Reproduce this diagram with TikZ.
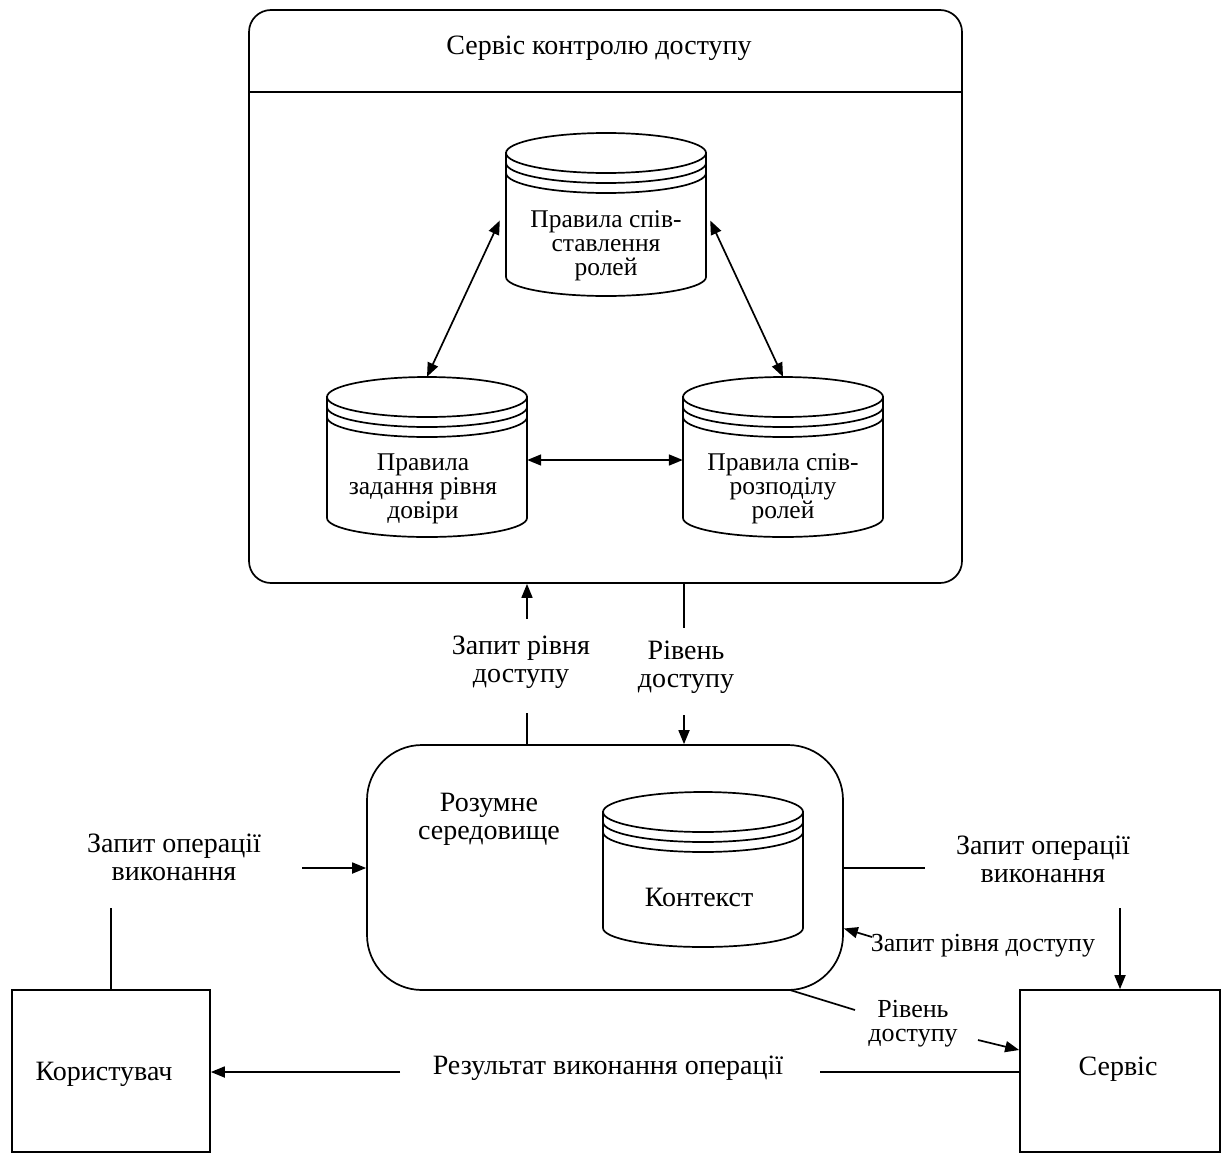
\documentclass[tikz,border=0pt]{standalone}
\usepackage{fontspec}
\setmainfont{Liberation Serif}
\usetikzlibrary{arrows.meta,calc}

% Drum (database) symbol: #1 centre x, #2 top y, #3 lowest y
\newcommand\drumsym[3]{%
  \fill[white] ({#1-100},{#2+19}) -- ({#1-100},{#3-19})
     arc[start angle=180,end angle=0,x radius=100,y radius=19]
     -- ({#1+100},{#2+19}) arc[start angle=0,end angle=180,x radius=100,y radius=19] -- cycle;
  \draw[ln] ({#1-100},{#2+19}) -- ({#1-100},{#3-19})
     arc[start angle=180,end angle=0,x radius=100,y radius=19]
     -- ({#1+100},{#2+19});
  \draw[ln] (#1,{#2+20}) ellipse[x radius=100,y radius=20];
  \draw[ln] ({#1-100},{#2+30}) arc[start angle=180,end angle=0,x radius=100,y radius=20];
  \draw[ln] ({#1-100},{#2+40}) arc[start angle=180,end angle=0,x radius=100,y radius=20];
}

\begin{document}
\begin{tikzpicture}[x=1pt,y=-1pt,
  every node/.style={font=\fontsize{28}{28}\selectfont},
  ln/.style={line width=1.7pt},
  tip/.tip={Triangle[length=14pt,width=11pt]},
  arr/.style={ln,-tip},
  darr/.style={ln,tip-tip},
  box/.style={draw,ln,rectangle,inner sep=0pt},
  area/.style={rectangle,inner sep=0pt},
  lbl/.style={align=center,inner sep=2pt},
  drumtext/.style={align=center,inner sep=0pt,font=\fontsize{25.5}{24}\selectfont},
]
\useasboundingbox (0,0) rectangle (1222,1153);

% ---- access control service ----
\node[box,rounded corners=22pt,minimum width=713pt,minimum height=573pt] (acs) at (605.5,296.5) {};
\coordinate (hd) at (0,92);
\draw[ln] (acs.west |- hd) -- (acs.east |- hd);
\node (acstitle) at (599,48) {Сервіс контролю доступу};

% rule stores
\drumsym{606}{133}{296}
\node[area,minimum width=200pt,minimum height=163pt] (ctop) at (606,214.5) {};
\node[drumtext] (ttop) at (606,246) {Правила спів-\\ставлення\\ролей};

\drumsym{427}{377}{537}
\node[area,minimum width=200pt,minimum height=160pt] (cleft) at (427,457) {};
\node[drumtext] (tleft) at (423,489) {Правила\\задання рівня\\довіри};

\drumsym{783}{377}{537}
\node[area,minimum width=200pt,minimum height=160pt] (cright) at (783,457) {};
\node[drumtext] (tright) at (783,489) {Правила спів-\\розподілу\\ролей};

\draw[darr] ($(ctop.west)+(-6,6)$) -- (cleft.north);
\draw[darr] ($(ctop.east)+(4,6)$) -- (cright.north);
\draw[darr] ($(cleft.east)+(0,3)$) -- ($(cright.west)+(0,3)$);

% ---- smart environment ----
\node[box,rounded corners=55pt,minimum width=476pt,minimum height=245pt] (env) at (605,867.5) {};
\node[lbl] (envtitle) at (489,819) {Розумне\\середовище};
\drumsym{703}{792}{947}
\node[area,minimum width=200pt,minimum height=155pt] (ctx) at (703,869.5) {};
\node (tctx) at (699,897) {Контекст};

% ---- requests between environment and access control ----
\coordinate (qx) at (527,0);
\coordinate (lx) at (684,0);
\node[lbl] (q1) at (521,662) {Запит рівня\\доступу};
\node[lbl] (l1) at (686,667) {Рівень\\доступу};
\coordinate (q1lo) at (527,713);
\coordinate (q1hi) at (527,619);
\coordinate (l1hi) at (684,628);
\coordinate (l1lo) at (684,715);
\draw[ln] (env.north -| qx) -- (q1lo);
\draw[arr] (q1hi) -- (acs.south -| qx);
\draw[ln] (acs.south -| lx) -- (l1hi);
\draw[arr] (l1lo) -- (env.north -| lx);

% ---- user and service ----
\node[box,minimum width=198pt,minimum height=162pt] (user) at (111,1071) {};
\node (usertxt) at (104,1074) {Користувач};
\node[box,minimum width=200pt,minimum height=162pt] (srv) at (1120,1071) {};
\node (srvtxt) at (1118,1069) {Сервіс};

% user requests an operation
\node[lbl] (op1) at (174,857) {Запит операції\\виконання};
\coordinate (op1in) at (302,868);
\coordinate (op1up) at (110,908);
\draw[ln] (user.north) -- (user.north |- op1up);
\draw[arr] (op1in) -- (env.west |- op1in);

% environment forwards the operation to the service
\node[lbl] (op2) at (1043,859) {Запит операції\\виконання};
\coordinate (op2out) at (925,868);
\coordinate (op2down) at (1120,908);
\draw[ln] (env.east |- op2out) -- (op2out);
\draw[arr] (op2down) -- (srv.north);

% service asks the environment for the access level
\node[lbl,font=\fontsize{26}{26}\selectfont] (q2) at (983,946) {Запит рівня доступу};
\coordinate (q2tail) at (872,937);
\draw[arr] (q2tail) -- ($(env.east)+(0,61)$);

% environment returns the access level
\node[lbl,font=\fontsize{26}{24}\selectfont] (l2) at (913,1024) {Рівень\\доступу};
\coordinate (l2start) at (790,990);
\coordinate (l2mid) at (855,1010);
\coordinate (l2tail) at (978,1040);
\draw[ln] (l2start) -- (l2mid);
\draw[arr] (l2tail) -- ($(srv.west)+(0,-21)$);

% result back to the user
\node[lbl] (res) at (608,1068) {Результат виконання операції};
\coordinate (resl) at (400,1072);
\coordinate (resr) at (820,1072);
\draw[arr] (resl) -- (user.east |- resl);
\draw[ln] (srv.west |- resr) -- (resr);
\end{tikzpicture}
\end{document}
